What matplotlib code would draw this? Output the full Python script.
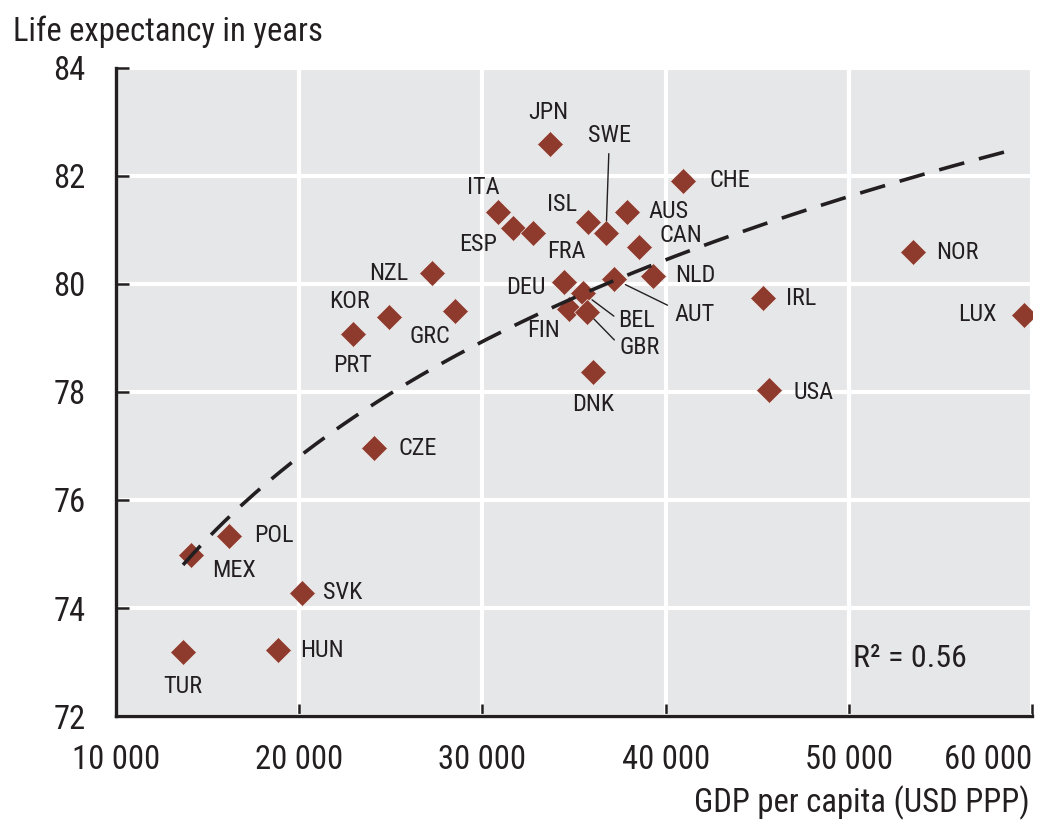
import numpy as np
import matplotlib
matplotlib.use('Agg')
import matplotlib.pyplot as plt

plt.rcParams['font.family'] = ['Roboto Condensed', 'DejaVu Sans']

# GDP per capita (USD PPP) and life expectancy
COUNTRIES = ['JPN', 'SWE', 'CHE', 'ITA', 'ISL', 'AUS', 'ESP', 'CAN', 'FRA',
             'NZL', 'NOR', 'DEU', 'NLD', 'KOR', 'GRC', 'PRT', 'FIN', 'BEL',
             'AUT', 'GBR', 'IRL', 'LUX', 'USA', 'DNK', 'CZE', 'POL', 'MEX',
             'SVK', 'HUN', 'TUR']
GDP = [33700, 36750, 40960, 30860, 35770, 37900, 31680, 38560, 32770,
       27250, 53520, 34460, 39320, 24900, 28510, 22940, 34730, 35500,
       37190, 35720, 45330, 59580, 45650, 36040, 24090, 16170, 14100,
       20160, 18850, 13660]
LIFE_EXP = [82.59, 80.94, 81.91, 81.33, 81.15, 81.33, 81.04, 80.69, 80.94,
            80.20, 80.59, 80.04, 80.15, 79.39, 79.50, 79.07, 79.54, 79.83,
            80.09, 79.48, 79.74, 79.43, 78.04, 78.37, 76.96, 75.33, 74.98,
            74.28, 73.22, 73.19]
R2_TEXT = 'R² = 0.56'
TREND_END = 58900

X_TICKS = [10000, 20000, 30000, 40000, 50000, 60000]
Y_TICKS = [72, 74, 76, 78, 80, 82, 84]

# label offsets from each marker, in pixels (dx, dy)
LABEL_OFFSETS = {
    'JPN': (-2, 32), 'SWE': (3, 98), 'CHE': (47, 0), 'ITA': (-15, 25),
    'ISL': (-26, 17), 'AUS': (41, 1), 'ESP': (-35, -17), 'CAN': (42, 11),
    'FRA': (33, -18), 'NZL': (-43, 0), 'NOR': (44, 0), 'DEU': (-38, -6),
    'NLD': (42, 0), 'KOR': (-40, 15), 'GRC': (-25, -26), 'PRT': (-1, -31),
    'FIN': (-26, -22), 'BEL': (53, -27), 'AUT': (80, -35), 'GBR': (52, -35),
    'IRL': (38, 0), 'LUX': (-47, 0), 'USA': (44, -3), 'DNK': (0, -32),
    'CZE': (44, 0), 'POL': (45, 1), 'MEX': (43, -15), 'SVK': (41, 0),
    'HUN': (44, 0), 'TUR': (0, -35),
}
# leader lines: (relpos on text, shrink at text, shrink at marker)
LEADERS = {
    'SWE': ((0.5, 0.0), 3, 9),
    'BEL': ((0.0, 0.55), 1, 8),
    'AUT': ((0.0, 0.75), 3, 9),
    'GBR': ((0.0, 0.6), 2, 7),
}

TEXT_COLOR = '#231f20'
MARKER_COLOR = '#8e3a2d'
BG_COLOR = '#e6e7e8'

fig = plt.figure(figsize=(10.6, 8.35), dpi=100)
ax = fig.add_axes([0.1094, 0.1425, 0.8642, 0.7761])
ax.set_facecolor(BG_COLOR)

gdp = np.array(GDP)
le = np.array(LIFE_EXP)

ax.plot(gdp, le, linestyle='none', marker='D', ms=13.4, color=MARKER_COLOR,
        mec='#f0e8e6', mew=0.5, zorder=3)

# logarithmic trend fitted to the points
b, a = np.polyfit(np.log(gdp), le, 1)
xs = np.linspace(gdp.min(), TREND_END, 200)
ax.plot(xs, a + b * np.log(xs), color=TEXT_COLOR, lw=2.6,
        linestyle=(0, (7.2, 4.2)), zorder=4)

for name, x, y in zip(COUNTRIES, GDP, LIFE_EXP):
    dx, dy = LABEL_OFFSETS[name]
    kw = {}
    if name in LEADERS:
        rel, sa, sb = LEADERS[name]
        kw['arrowprops'] = dict(arrowstyle='-', color=TEXT_COLOR, lw=1.0,
                                relpos=rel, shrinkA=sa, shrinkB=sb)
    ax.annotate(name, xy=(x, y), xytext=(dx, dy), textcoords='offset pixels',
                ha='center', va='center', fontsize=17.5, color=TEXT_COLOR,
                zorder=5, **kw)

ax.text(53350, 73.07, R2_TEXT, ha='center', va='center', fontsize=23,
        color=TEXT_COLOR)

ax.set_xlim(10000, 60000)
ax.set_ylim(72, 84)
ax.set_xticks(X_TICKS)
ax.set_yticks(Y_TICKS)
ax.set_xticklabels([f'{v:,}'.replace(',', ' ') for v in X_TICKS])
ax.get_xticklabels()[-1].set_horizontalalignment('right')

ax.grid(True, color='white', lw=3)
ax.set_axisbelow(True)
for side in ['top', 'right']:
    ax.spines[side].set_visible(False)
for side in ['left', 'bottom']:
    ax.spines[side].set_linewidth(2.4)
    ax.spines[side].set_color(TEXT_COLOR)
    ax.spines[side].set_zorder(6)
ax.tick_params(direction='in', length=9, width=1.8, color=TEXT_COLOR,
               labelsize=23.5, labelcolor=TEXT_COLOR)
ax.tick_params(axis='x', pad=20)
ax.tick_params(axis='y', pad=22)

fig.text(13 / 1060, 1 - 32 / 835, 'Life expectancy in years', ha='left',
         va='center', fontsize=23.5, color=TEXT_COLOR)
fig.text(1030 / 1060, 1 - 803 / 835, 'GDP per capita (USD PPP)', ha='right',
         va='center', fontsize=23.5, color=TEXT_COLOR)

fig.savefig('out.png', dpi=100)
